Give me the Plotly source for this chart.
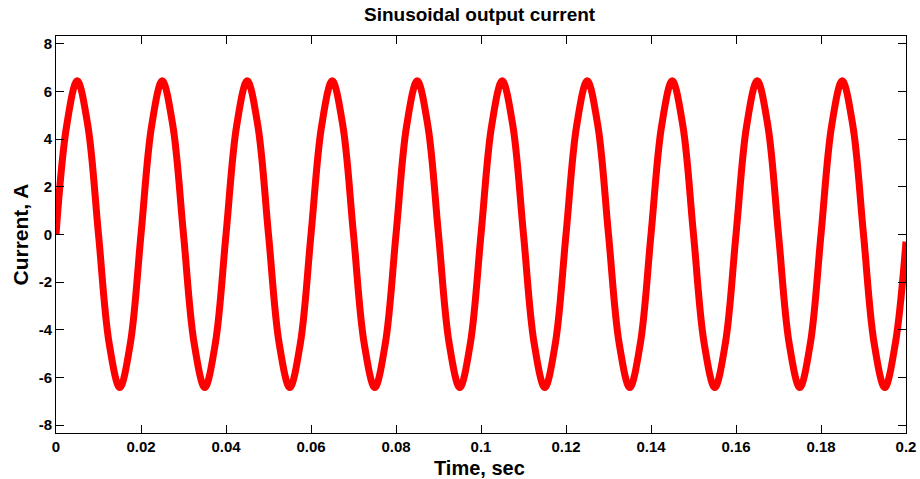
import plotly.graph_objects as go

# Sample times (s), every 2.5 ms
time_s = [
    0.0, 0.0025, 0.005, 0.0075, 0.01, 0.0125, 0.015, 0.0175,
    0.02, 0.0225, 0.025, 0.0275, 0.03, 0.0325, 0.035, 0.0375,
    0.04, 0.0425, 0.045, 0.0475, 0.05, 0.0525, 0.055, 0.0575,
    0.06, 0.0625, 0.065, 0.0675, 0.07, 0.0725, 0.075, 0.0775,
    0.08, 0.0825, 0.085, 0.0875, 0.09, 0.0925, 0.095, 0.0975,
    0.1, 0.1025, 0.105, 0.1075, 0.11, 0.1125, 0.115, 0.1175,
    0.12, 0.1225, 0.125, 0.1275, 0.13, 0.1325, 0.135, 0.1375,
    0.14, 0.1425, 0.145, 0.1475, 0.15, 0.1525, 0.155, 0.1575,
    0.16, 0.1625, 0.165, 0.1675, 0.17, 0.1725, 0.175, 0.1775,
    0.18, 0.1825, 0.185, 0.1875, 0.19, 0.1925, 0.195, 0.1975,
    0.2,
]

# Output current (A)
current_a = [
    0.0, 4.56, 6.45, 4.56, 0.0, -4.56, -6.42, -4.56,
    0.0, 4.56, 6.45, 4.56, 0.0, -4.56, -6.42, -4.56,
    0.0, 4.56, 6.45, 4.56, 0.0, -4.56, -6.42, -4.56,
    0.0, 4.56, 6.45, 4.56, 0.0, -4.56, -6.42, -4.56,
    0.0, 4.56, 6.45, 4.56, 0.0, -4.56, -6.42, -4.56,
    0.0, 4.56, 6.45, 4.56, 0.0, -4.56, -6.42, -4.56,
    0.0, 4.56, 6.45, 4.56, 0.0, -4.56, -6.42, -4.56,
    0.0, 4.56, 6.45, 4.56, 0.0, -4.56, -6.42, -4.56,
    0.0, 4.56, 6.45, 4.56, 0.0, -4.56, -6.42, -4.56,
    0.0, 4.56, 6.45, 4.56, 0.0, -4.56, -6.42, -4.56,
    -0.3,
]

x_ticks = [0, 0.02, 0.04, 0.06, 0.08, 0.1, 0.12, 0.14, 0.16, 0.18, 0.2]
x_tick_labels = ["0", "0.02", "0.04", "0.06", "0.08", "0.1", "0.12", "0.14", "0.16", "0.18", "0.2"]
y_ticks = [-8, -6, -4, -2, 0, 2, 4, 6, 8]
y_tick_labels = ["-8", "-6", "-4", "-2", "0", "2", "4", "6", "8"]

FONT = "Liberation Sans, Arial, sans-serif"

fig = go.Figure()
fig.add_trace(go.Scatter(
    x=time_s, y=current_a, mode="lines",
    line=dict(color="#FF0000", width=7, shape="spline", smoothing=1.0),
    showlegend=False,
))

axis_common = dict(
    showline=True, linecolor="black", linewidth=1, mirror="ticks",
    ticks="inside", ticklen=8, tickwidth=1, tickcolor="black",
    showgrid=False, zeroline=False, automargin=False,
    tickfont=dict(family=FONT, size=15, color="black", weight="bold"),
)

fig.update_layout(
    width=920, height=479,
    paper_bgcolor="white", plot_bgcolor="white",
    margin=dict(l=56, r=14, t=36, b=46),
    xaxis=dict(range=[0, 0.2], tickvals=x_ticks, ticktext=x_tick_labels, **axis_common),
    yaxis=dict(range=[-8.33, 8.33], tickvals=y_ticks, ticktext=y_tick_labels, **axis_common),
    annotations=[
        dict(text="<b>Sinusoidal output current</b>", xref="paper", yref="paper",
             x=0.4988, y=1.0529, xanchor="center", yanchor="middle", showarrow=False,
             font=dict(family=FONT, size=19, color="black")),
        dict(text="<b>Time, sec</b>", xref="paper", yref="paper",
             x=0.4988, y=-0.087, xanchor="center", yanchor="middle", showarrow=False,
             font=dict(family=FONT, size=20, color="black")),
        dict(text="<b>Current, A</b>", xref="paper", yref="paper",
             x=-0.0412, y=0.5, xanchor="center", yanchor="middle", showarrow=False,
             textangle=-90, font=dict(family=FONT, size=21, color="black")),
    ],
)

fig.write_html(
    "out.html",
    config={"displayModeBar": False},
    post_script="document.body.style.margin='0';document.body.style.overflow='hidden';",
)
